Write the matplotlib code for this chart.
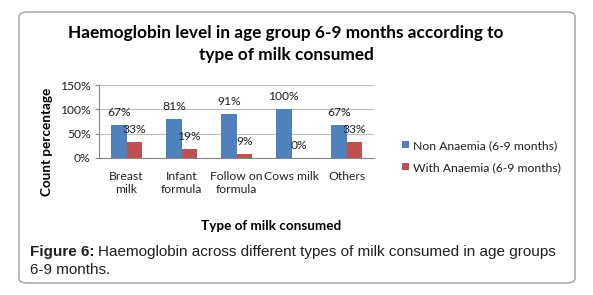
import matplotlib.pyplot as plt
from matplotlib.patches import FancyBboxPatch
import numpy as np

categories = ["Breast\nmilk", "Infant\nformula", "Follow on\nformula", "Cows milk", "Others"]
non_anaemia = [67, 81, 91, 100, 67]
with_anaemia = [33, 19, 9, 0, 33]
series_names = ["Non Anaemia (6-9 months)", "With Anaemia (6-9 months)"]
yticks = [0, 50, 100, 150]

blue = "#4F81BD"
red = "#C0504D"
font = "Lato"

W, H = 593, 295
fig = plt.figure(figsize=(W / 100, H / 100), dpi=100)

# rounded frame around everything
frame = FancyBboxPatch((19 / W, 12 / H), 556 / W, 271 / H,
                       boxstyle="round,pad=0,rounding_size=0.015",
                       transform=fig.transFigure, facecolor="none",
                       edgecolor="#A0A0A0", linewidth=1.0, zorder=-1)
fig.patches.append(frame)

ax = fig.add_axes([99 / W, (H - 158) / H, 275 / W, 73 / H])
x = np.arange(len(categories))
w = 0.28
b1 = ax.bar(x - w / 2, non_anaemia, w, color=blue, label=series_names[0], zorder=3)
b2 = ax.bar(x + w / 2, with_anaemia, w, color=red, label=series_names[1], zorder=3)

for bars, vals in ((b1, non_anaemia), (b2, with_anaemia)):
    for r, v in zip(bars, vals):
        ax.annotate("{}%".format(v), (r.get_x() + r.get_width() / 2, r.get_height()),
                    xytext=(0, 5), textcoords="offset points", ha="center", va="bottom",
                    fontsize=8.7, family=font, color="#222222", zorder=4)

ax.set_xlim(-0.5, len(categories) - 0.5)
ax.set_ylim(0, 150)
ax.set_yticks(yticks)
ax.set_yticklabels(["{}%".format(t) for t in yticks], family=font, fontsize=8.7, color="#222222")
ax.set_xticks(x)
ax.set_xticklabels(categories, family=font, fontsize=8.7, color="#222222", linespacing=1.3)
ax.tick_params(axis="x", length=0, pad=9)
ax.tick_params(axis="y", length=3, color="#868686", pad=3)
ax.grid(axis="y", color="#BFBFBF", linewidth=0.8, zorder=0)
ax.set_axisbelow(True)
for s in ("top", "right"):
    ax.spines[s].set_visible(False)
ax.spines["left"].set_color("#868686")
ax.spines["bottom"].set_color("#868686")

fig.legend(handles=[b1, b2], labels=series_names, loc="upper left",
           bbox_to_anchor=(396 / W, (H - 134) / H), frameon=False,
           prop={"family": font, "size": 8.8}, handlelength=0.55, handleheight=0.55,
           handletextpad=0.35, labelspacing=0.9, borderpad=0, labelcolor="#222222")

fig.text(286 / W, (H - 44) / H, "Haemoglobin level in age group 6-9 months according to\ntype of milk consumed",
         ha="center", va="center", family=font, fontweight="bold", fontsize=12.4,
         linespacing=1.5, color="black")
fig.text(47 / W, (H - 142) / H, "Count percentage", rotation=90, ha="center", va="center",
         family=font, fontweight="bold", fontsize=9.7, color="black")
fig.text(271 / W, (H - 226) / H, "Type of milk consumed", ha="center", va="center",
         family=font, fontweight="bold", fontsize=9.7, color="black")

# caption with bold lead
cap_y = (H - 252) / H
t1 = fig.text(30 / W, cap_y, "Figure 6:", ha="left", va="center", family="Liberation Sans",
              fontweight="bold", fontsize=11, color="#231F20")
fig.canvas.draw()
bb = t1.get_window_extent(fig.canvas.get_renderer())
fig.text(bb.x1 / W + 3 / W, cap_y, "Haemoglobin across different types of milk consumed in age groups",
         ha="left", va="center", family="Liberation Sans", fontsize=11, color="#231F20")
fig.text(30 / W, (H - 270) / H, "6-9 months.", ha="left", va="center",
         family="Liberation Sans", fontsize=11, color="#231F20")

fig.savefig("out.png", dpi=100)
